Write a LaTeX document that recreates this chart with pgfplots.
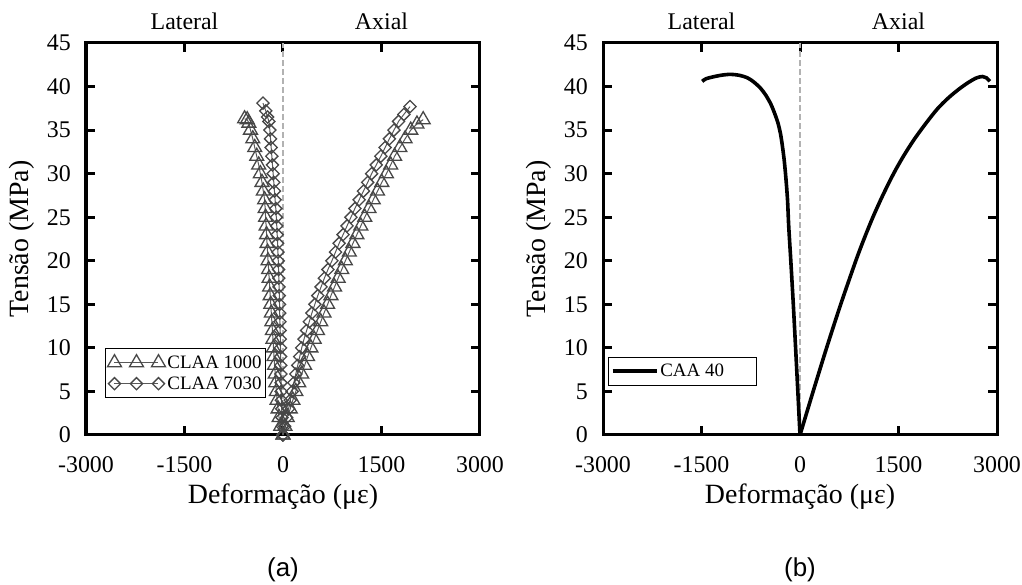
\documentclass[border=0pt]{standalone}
\usepackage{fontspec}
\setmainfont{Liberation Serif}
\newfontfamily\arialfont{Liberation Sans}
\usepackage{pgfplots}
\pgfplotsset{compat=1.18}

% CLAA 1000: lateral and axial branches (strain, stress)
\pgfplotstableread{
x y
0 0
-35 1
-60 2
-75 3
-90 4
-100 5
-110 6
-118 7
-128 8
-137 9
-145 10
-153 11
-161 12
-170 13
-178 14
-186 15
-195 16
-203 17
-211 18
-219 19
-228 20
-235 21
-243 22
-250 23
-257 24
-265 25
-272 26
-280 27
-300 28
-320 29
-345 30
-370 31
-400 32
-430 33
-460 34
-495 35
-520 35.8
-545 36.2
-585 36.3
}\latA
\pgfplotstableread{
x y
0 0
30 1
65 2
110 3
150 4
195 5
240 6
285 7
330 8
375 9
425 10
475 11
525 12
575 13
625 14
680 15
730 16
785 17
840 18
895 19
950 20
1010 21
1065 22
1125 23
1185 24
1245 25
1310 26
1375 27
1440 28
1505 29
1575 30
1640 31
1700 32
1780 33
1860 34
1945 35
2040 35.7
2135 36.2
}\axA
% CLAA 7030
\pgfplotstableread{
x y
0 0
-10 1
-15 2
-20 3
-25 4
-28 5
-30 6
-32 7
-34 8
-36 9
-38 10
-41 11
-44 12
-47 13
-50 14
-53 15
-56 16
-60 17
-64 18
-68 19
-72 20
-77 21
-82 22
-88 23
-95 24
-102 25
-110 26
-120 27
-130 28
-140 29
-150 30
-160 31
-170 32
-180 33
-190 34
-200 35
-215 36
-235 36.5
-262 37.2
-305 38.1
}\latB
\pgfplotstableread{
x y
0 0
25 1
55 2
85 3
110 4
140 5
165 6
195 7
225 8
255 9
285 10
320 11
360 12
400 13
440 14
485 15
530 16
580 17
630 18
685 19
745 20
800 21
855 22
915 23
975 24
1035 25
1095 26
1160 27
1225 28
1290 29
1350 30
1420 31
1490 32
1555 33
1620 34
1690 35
1760 36
1840 36.8
1935 37.7
}\axB
% CAA 40
\pgfplotstableread{
x y
-1490 40.6
-1430 40.9
-1330 41.1
-1200 41.3
-1060 41.4
-930 41.3
-800 41.0
-700 40.5
-600 39.8
-520 39.0
-445 38.0
-390 37.0
-335 35.8
-295 34.5
-265 33.0
-240 31.5
-215 29.5
-190 27.0
-172 24.0
-140 20.0
-102 15.0
-67 10.0
-33 5.0
0 0
}\latC
\pgfplotstableread{
x y
0 0
200 5
405 10
620 15
850 20
975 22.5
1110 25
1260 27.5
1425 30
1575 32
1745 34
1940 36
2100 37.5
2260 38.7
2420 39.7
2570 40.5
2690 41.0
2780 41.15
2840 41.0
2890 40.6
}\axC

\pgfplotsset{
  strainaxis/.style={
    scale only axis, width=394bp, height=392bp,
    xmin=-3000, xmax=3000, ymin=0, ymax=45,
    xtick={-3000,-1500,0,1500,3000},
    xticklabels={-3000,-1500,0,1500,3000},
    ytick={0,5,...,45},
    yticklabels={0,5,10,15,20,25,30,35,40,45},
    tick align=inside, tickpos=both,
    major tick length=9bp,
    axis line style={line width=3bp, black},
    every tick/.style={black, line width=3bp},
    ticklabel style={font=\fontsize{24}{24}\selectfont},
    xticklabel style={anchor=base, inner sep=0pt, yshift=-38bp},
    yticklabel style={anchor=east, inner sep=0pt, xshift=-15bp},
    xlabel={Deforma\c{c}\~ao (με)},
    ylabel={Tens\~ao (MPa)},
    label style={font=\fontsize{28}{28}\selectfont},
    xlabel style={at={(axis description cs:0.5,-0.158)}, anchor=center},
    ylabel style={at={(axis description cs:-0.162,0.5)}, anchor=center},
    legend style={font=\fontsize{19}{19}\selectfont, draw=black, line width=1.3bp,
      inner xsep=2bp, inner ysep=5bp, row sep=3bp},
    legend cell align=left,
    clip=false,
  },
  zeroline/.style={gray!60, line width=2bp, dash pattern=on 6bp off 3bp},
  tri/.style={color=black!65, line width=1bp, mark=triangle, mark size=8bp,
    mark options={solid, fill=white, draw=black!72, line width=1.3bp}},
  dia/.style={color=black!65, line width=1bp, mark=square, mark size=4.3bp,
    mark options={solid, fill=white, draw=black!72, line width=1.3bp, rotate=45}},
}

\begin{document}
\begin{tikzpicture}
\useasboundingbox (0bp,0bp) rectangle (1022bp,585bp);

% (a) CLAA 1000 and CLAA 7030
\begin{axis}[strainaxis, at={(86bp,150bp)}, anchor=south west,
  legend style={at={(axis description cs:0.048,0.222)}, anchor=north west},
  legend image code/.code={\draw[#1, mark repeat=1, mark phase=1] plot coordinates {(0bp,0bp) (22bp,0bp) (44bp,0bp)};}]
  \addplot[zeroline, forget plot] coordinates {(0,0) (0,45)};
  \addplot[tri, forget plot] table {\latA};
  \addplot[tri] table {\axA};
  \addlegendentry{CLAA 1000}
  \addplot[dia, forget plot] table {\latB};
  \addplot[dia] table {\axB};
  \addlegendentry{CLAA 7030}
  \node[anchor=base, font=\fontsize{24}{24}\selectfont] at (axis cs:-1500,46.5) {Lateral};
  \node[anchor=base, font=\fontsize{24}{24}\selectfont] at (axis cs:1500,46.5) {Axial};
\end{axis}

% (b) CAA 40
\begin{axis}[strainaxis, at={(603bp,150bp)}, anchor=south west,
  legend style={at={(axis description cs:0.013,0.2)}, anchor=north west},
  legend image code/.code={\draw[#1] (0bp,0bp) -- (44bp,0bp);}]
  \addplot[zeroline, forget plot] coordinates {(0,0) (0,45)};
  \addplot[black, line width=3.6bp, smooth, forget plot] table {\latC};
  \addplot[black, line width=3.6bp, smooth] table {\axC};
  \addlegendentry{\makebox[92bp][l]{CAA 40}}
  \node[anchor=base, font=\fontsize{24}{24}\selectfont] at (axis cs:-1500,46.5) {Lateral};
  \node[anchor=base, font=\fontsize{24}{24}\selectfont] at (axis cs:1500,46.5) {Axial};
\end{axis}

\node[font=\arialfont\fontsize{26}{26}\selectfont] at (283bp,15bp) {(a)};
\node[font=\arialfont\fontsize{26}{26}\selectfont] at (800bp,15bp) {(b)};
\end{tikzpicture}
\end{document}
